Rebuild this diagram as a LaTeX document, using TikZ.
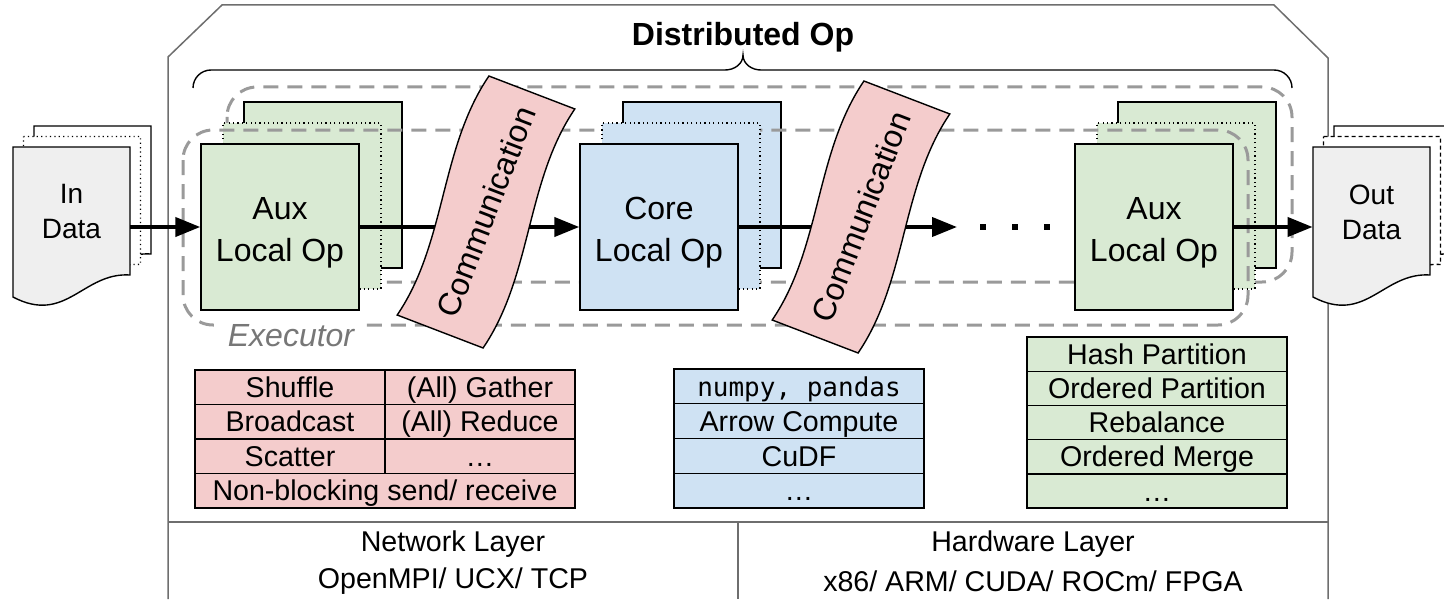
\documentclass[tikz,border=0pt]{standalone}
\usepackage{fontspec}
\setmainfont{Liberation Sans}
\newfontfamily\monofont{DejaVu Sans Mono}
\usetikzlibrary{arrows.meta}
\definecolor{cgreen}{HTML}{D9EAD3}
\definecolor{cblue}{HTML}{CFE2F3}
\definecolor{cred}{HTML}{F4CCCC}
\definecolor{cgray}{HTML}{EFEFEF}
\definecolor{dashgray}{HTML}{9A9A9A}
\definecolor{framegray}{HTML}{6E6E6E}
\definecolor{execgray}{HTML}{777777}
\newcommand\docshape[2]{\begin{scope}[shift={#1}]\draw[doc,#2] (0,0) -- (117,0) -- (117,128) .. controls (70,125) and (53,178) .. (0,150) -- cycle;\end{scope}}
\newcommand\bannershape{\draw[banner] (-128,-46) .. controls (-43,-26) and (43,-66) .. (128,-46) -- (128,46) .. controls (43,26) and (-43,66) .. (-128,46) -- cycle;}
\begin{document}
\begin{tikzpicture}[x=0.5pt,y=-0.5pt,
  opbox/.style={draw=black, line width=0.7pt, minimum width=79pt, minimum height=83pt, inner sep=0pt},
  oplbl/.style={align=center, inner sep=0pt, font=\fontsize{16}{21}\selectfont},
  dotbox/.style={opbox, dash pattern=on 0.6pt off 1.6pt},
  execbox/.style={draw=dashgray, line width=1.5pt, dash pattern=on 7.5pt off 4.5pt, rounded corners=15pt},
  flow/.style={line width=2pt, -{Triangle[length=12.5pt,width=9.5pt]}},
  doc/.style={draw=black, line width=0.7pt},
  doclbl/.style={align=center, font=\fontsize{14}{17.5}\selectfont, minimum width=58.5pt, inner sep=0pt},
  cell/.style={draw=black, line width=0.7pt, inner sep=0pt, text height=12.2pt, text depth=2pt, font=\fontsize{14.3}{17}\selectfont},
  banner/.style={draw=black, line width=0.7pt, fill=cred},
  commlbl/.style={transform shape, font=\fontsize{16}{20}\selectfont},
  layerlbl/.style={font=\fontsize{14.3}{17}\selectfont},
  frame/.style={draw=framegray, line width=0.75pt}
]
\useasboundingbox (0,0) rectangle (1444,599);
% outer frame and layers
\draw[frame] (168,599) -- (168,57) -- (222,5) -- (1274,5) -- (1328,58) -- (1328,599);
\draw[frame] (168,522) -- (1328,522);
\draw[frame] (738,522) -- (738,599);
\node[layerlbl] (netl) at (453,544) {Network Layer};
\node[layerlbl] (netv) at (453,581) {OpenMPI/ UCX/ TCP};
\node[layerlbl] (hwl) at (1033,544) {Hardware Layer};
\node[layerlbl] (hwv) at (1033,581) {x86/ ARM/ CUDA/ ROCm/ FPGA};
% title and brace
\node[font=\bfseries\fontsize{16}{20}\selectfont] (title) at (743,37) {Distributed Op};
\draw[line width=0.7pt] (193,88) to[out=90,in=180] (211,70) -- (725,70) to[out=0,in=-90] (743,55) to[out=-90,in=180] (761,70) -- (1274,70) to[out=0,in=90] (1292,88);
% back executor
\draw[execbox] (227,87) rectangle (1292,282);
% back boxes
\node[opbox, fill=cgreen] (aux1b) at (323,185) {};
\node[opbox, fill=cblue] (core1b) at (702,185) {};
\node[opbox, fill=cgreen] (aux3b) at (1197,185) {};
% middle boxes
\node[dotbox, fill=cgreen] (aux1m) at (302,206) {};
\node[dotbox, fill=cgreen] (aux3m) at (1176,206) {};
% front executor
\draw[execbox] (183,130) rectangle (1248,325);
\node[dotbox, fill=cblue] (core1m) at (681,206) {};
% front boxes
\node[opbox, fill=cgreen] (aux1) at (280,227) {};
\node[opbox, fill=cblue] (core1) at (659,227) {};
\node[opbox, fill=cgreen] (aux3) at (1154,227) {};
\node[oplbl] (aux1t) at ([yshift=-3pt]aux1.center) {Aux\\Local Op};
\node[oplbl] (core1t) at ([yshift=-3pt]core1.center) {Core\\Local Op};
\node[oplbl] (aux3t) at ([yshift=-3pt]aux3.center) {Aux\\Local Op};
% data documents
\docshape{(34,126)}{fill=white}
\docshape{(23.5,136.5)}{fill=white, dash pattern=on 0.6pt off 1.6pt}
\docshape{(13,147)}{fill=cgray}
\node[doclbl] (indata) at (71.5,212) {In\\Data};
\docshape{(1334,126)}{fill=white}
\docshape{(1323.5,136.5)}{fill=white, dash pattern=on 2pt off 1.5pt}
\docshape{(1313,147)}{fill=cgray}
\node[doclbl] (outdata) at (1371.5,212) {Out\\Data};
% connectors
\coordinate (dotsend) at (957,227);
\draw[flow] (indata.east |- aux1.west) -- (aux1.west);
\draw[flow] (aux1.east) -- (core1.west);
\draw[flow] (core1.east) -- (dotsend);
\draw[flow] (aux3.east) -- (outdata.west |- aux3.east);
\fill (980,224) rectangle (986,230);
\fill (1012,224) rectangle (1018,230);
\fill (1044,224) rectangle (1050,230);
% communication banners
\begin{scope}[shift={(486,212)}, rotate=69]
\bannershape
\node[commlbl] (comm1) at (0,0) {Communication};
\end{scope}
\begin{scope}[shift={(861,217)}, rotate=69]
\bannershape
\node[commlbl] (comm2) at (0,0) {Communication};
\end{scope}
% executor label
\node[fill=white, inner ysep=3pt, inner xsep=5pt, text=execgray, font=\itshape\fontsize{16}{20}\selectfont] (execlbl) at (291,336) {Executor};
% red table
\node[cell, fill=cred, minimum width=95pt, minimum height=17.25pt] (r11) at (290,387.25) {Shuffle};
\node[cell, fill=cred, minimum width=95pt, minimum height=17.25pt] (r12) at (480,387.25) {(All) Gather};
\node[cell, fill=cred, minimum width=95pt, minimum height=17.25pt] (r21) at (290,421.75) {Broadcast};
\node[cell, fill=cred, minimum width=95pt, minimum height=17.25pt] (r22) at (480,421.75) {(All) Reduce};
\node[cell, fill=cred, minimum width=95pt, minimum height=17.25pt] (r31) at (290,456.25) {Scatter};
\node[cell, fill=cred, minimum width=95pt, minimum height=17.25pt] (r32) at (480,456.25) {…};
\node[cell, fill=cred, minimum width=190pt, minimum height=17.25pt] (r4) at (385,490.75) {Non-blocking send/ receive};
% blue table
\node[cell, fill=cblue, minimum width=125pt, minimum height=17.375pt, font=\monofont\fontsize{13}{16}\selectfont] (b1) at (799,386.4) {numpy, pandas};
\node[cell, fill=cblue, minimum width=125pt, minimum height=17.375pt] (b2) at (799,421.1) {Arrow Compute};
\node[cell, fill=cblue, minimum width=125pt, minimum height=17.375pt] (b3) at (799,455.9) {CuDF};
\node[cell, fill=cblue, minimum width=125pt, minimum height=17.375pt] (b4) at (799,490.6) {…};
% green table
\node[cell, fill=cgreen, minimum width=130pt, minimum height=17.1pt] (g1) at (1157,354.1) {Hash Partition};
\node[cell, fill=cgreen, minimum width=130pt, minimum height=17.1pt] (g2) at (1157,388.3) {Ordered Partition};
\node[cell, fill=cgreen, minimum width=130pt, minimum height=17.1pt] (g3) at (1157,422.5) {Rebalance};
\node[cell, fill=cgreen, minimum width=130pt, minimum height=17.1pt] (g4) at (1157,456.7) {Ordered Merge};
\node[cell, fill=cgreen, minimum width=130pt, minimum height=17.1pt] (g5) at (1157,490.9) {…};
\end{tikzpicture}
\end{document}
